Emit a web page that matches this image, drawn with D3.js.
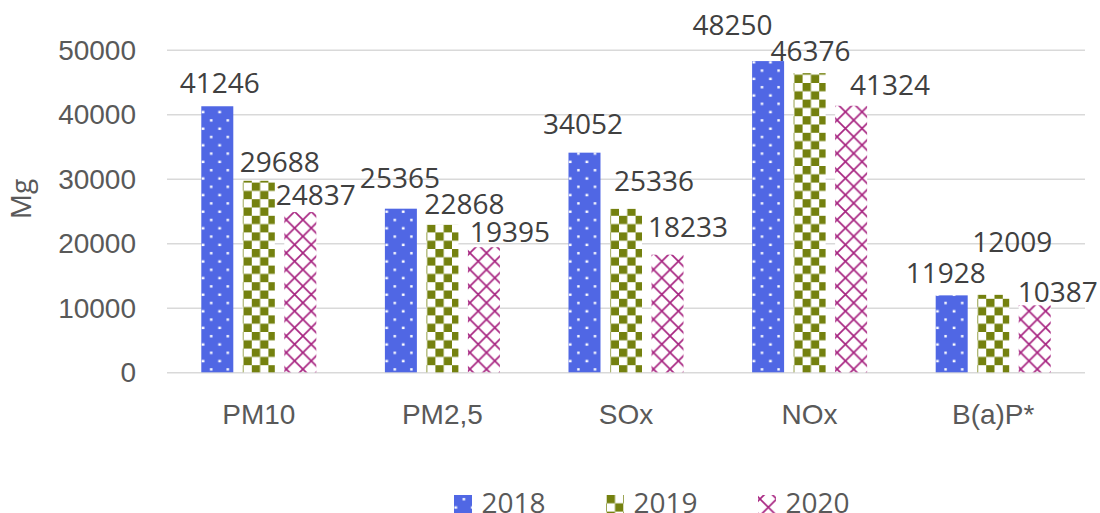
<!DOCTYPE html>
<html>
<head>
<meta charset="utf-8">
<script src="https://cdn.jsdelivr.net/npm/d3@7"></script>
<style>
  html, body { margin: 0; padding: 0; background: #fff; }
  svg { display: block; font-family: "Open Sans", sans-serif; }
</style>
</head>
<body>
<svg id="chart" width="1100" height="513"></svg>
<script>
// ---- data ----
const categories = ["PM10", "PM2,5", "SOx", "NOx", "B(a)P*"];
const years = ["2018", "2019", "2020"];
const values2018 = [41246, 25365, 34052, 48250, 11928];
const values2019 = [29688, 22868, 25336, 46376, 12009];
const values2020 = [24837, 19395, 18233, 41324, 10387];
const yTicks = [0, 10000, 20000, 30000, 40000, 50000];
const yTitle = "Mg";

// ---- layout / style ----
const series = [values2018, values2019, values2020];
const fills = ["url(#p2018)", "url(#p2019)", "url(#p2020)"];
// manual nudges of data labels [dx, distance of baseline above bar top]
const labelNudges = [
  [[2.5, 13.4], [-1, 21], [-1.5, 18.3], [-35.5, 26], [-6, 12.7]],
  [[21, 9.3], [22, 10.7], [28, 18.3], [1, 12.3], [19, 42.7]],
  [[15.5, 6.7], [26, 5.6], [20.5, 17.3], [39, 11], [23, 3.4]]
];

const svg = d3.select("#chart");
const defs = svg.append("defs");

// 2018: blue with white staggered dots
const p1 = defs.append("pattern").attr("id", "p2018").attr("patternUnits", "userSpaceOnUse")
  .attr("width", 16.6).attr("height", 16.6).attr("x", 1.6).attr("y", 0);
p1.append("rect").attr("width", 16.6).attr("height", 16.6).attr("fill", "#5067E4");
p1.append("rect").attr("x", 7.1).attr("y", 3).attr("width", 2.4).attr("height", 2.4).attr("fill", "#fff");
p1.append("rect").attr("x", 15.4).attr("y", 11.3).attr("width", 2.4).attr("height", 2.4).attr("fill", "#fff");
p1.append("rect").attr("x", -0.9).attr("y", 11.3).attr("width", 2.4).attr("height", 2.4).attr("fill", "#fff");

// 2019: olive checkerboard
const p2 = defs.append("pattern").attr("id", "p2019").attr("patternUnits", "userSpaceOnUse")
  .attr("width", 16.6).attr("height", 16.6).attr("x", 0.7).attr("y", 0);
p2.append("rect").attr("width", 16.6).attr("height", 16.6).attr("fill", "#fff");
p2.append("rect").attr("x", 0).attr("y", 0).attr("width", 8.3).attr("height", 8.3).attr("fill", "#74810F");
p2.append("rect").attr("x", 8.3).attr("y", 8.3).attr("width", 8.3).attr("height", 8.3).attr("fill", "#74810F");

// 2020: magenta diagonal lattice
const p3 = defs.append("pattern").attr("id", "p2020").attr("patternUnits", "userSpaceOnUse")
  .attr("width", 16.6).attr("height", 16.6).attr("x", 2).attr("y", 4);
p3.append("rect").attr("width", 16.6).attr("height", 16.6).attr("fill", "#fff");
p3.append("path").attr("d", "M0,0L16.6,16.6M16.6,0L0,16.6")
  .attr("stroke", "#A72581").attr("stroke-width", 1.7).attr("fill", "none");

// scales
const x0 = d3.scaleBand().domain(categories).range([167, 1085])
  .paddingInner(0.3736).paddingOuter(0.1868);
const x1 = d3.scaleBand().domain(years).range([0, x0.bandwidth()])
  .paddingInner(0.229).paddingOuter(0);
const y = d3.scaleLinear().domain([0, 50000]).range([372.3, 49.8]);

// gridlines
const yAxis = d3.axisLeft(y).tickValues(yTicks).tickSize(0).tickPadding(31)
  .tickFormat(d3.format("d"));
const gy = svg.append("g").attr("transform", "translate(167,0)").call(yAxis);
gy.select(".domain").remove();
gy.selectAll(".tick text").attr("fill", "#595959").attr("font-size", 28).attr("dy", "0.34em");
gy.selectAll(".tick").append("line").attr("x1", 0).attr("x2", 1085 - 167)
  .attr("stroke", "#D9D9D9").attr("stroke-width", 1.5);

// bars
const groups = svg.append("g").selectAll("g").data(categories).join("g")
  .attr("transform", d => `translate(${x0(d)},0)`);

years.forEach((yr, si) => {
  groups.append("rect")
    .attr("x", x1(yr))
    .attr("width", x1.bandwidth())
    .attr("y", (d, i) => y(series[si][i]))
    .attr("height", (d, i) => y(0) - y(series[si][i]))
    .attr("fill", fills[si]);
});

// data labels
years.forEach((yr, si) => {
  groups.append("text")
    .attr("x", (d, i) => x1(yr) + x1.bandwidth() / 2 + labelNudges[si][i][0])
    .attr("y", (d, i) => y(series[si][i]) - labelNudges[si][i][1])
    .attr("text-anchor", "middle")
    .attr("font-size", 28)
    .attr("fill", "#404040")
    .text((d, i) => series[si][i]);
});

// category axis
const xAxis = d3.axisBottom(x0).tickSize(0).tickPadding(0);
const gx = svg.append("g").attr("transform", "translate(0,424)").call(xAxis);
gx.select(".domain").remove();
gx.selectAll(".tick text").attr("fill", "#595959").attr("font-size", 28).attr("dy", 0);

// y title
svg.append("text")
  .attr("transform", "translate(31,199) rotate(-90)")
  .attr("text-anchor", "middle")
  .attr("font-size", 28)
  .attr("fill", "#595959")
  .text(yTitle);

// legend
const legendX = [454, 606, 758];
const lg = svg.append("g").selectAll("g").data(years).join("g")
  .attr("transform", (d, i) => `translate(${legendX[i]},495)`);
lg.append("rect").attr("width", 18).attr("height", 18).attr("fill", (d, i) => fills[i]);
lg.append("text").attr("x", 27.5).attr("y", 18).attr("font-size", 28).attr("fill", "#595959")
  .text(d => d);
</script>
</body>
</html>
